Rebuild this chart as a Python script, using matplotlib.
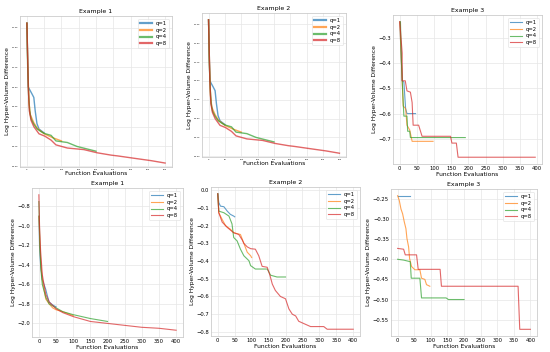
import matplotlib
matplotlib.use("Agg")
import matplotlib.pyplot as plt

labels = ["q=1", "q=2", "q=4", "q=8"]
colors = ["#1f77b4", "#ff7f0e", "#2ca02c", "#d62728"]
xticks = [0, 50, 100, 150, 200, 250, 300, 350, 400]

# top row, example 1 / example 2 (small pictures)
top1_x = [0, 2, 4, 9, 14, 20, 24, 29, 35, 50]
top1_y = [-1.19, -1.6, -2.0, -2.04, -2.08, -2.13, -2.3, -2.46, -2.53, -2.58]
top2_x = [0, 3, 6, 10, 20, 30, 50, 75, 100]
top2_y = [-1.19, -1.8, -2.2, -2.35, -2.45, -2.52, -2.59, -2.64, -2.68]
top4_x = [0, 2, 5, 8, 12, 20, 30, 40, 50, 70, 84, 117, 145, 200]
top4_y = [-1.19, -1.7, -2.1, -2.3, -2.4, -2.47, -2.53, -2.56, -2.585, -2.61, -2.68, -2.70, -2.75, -2.81]
top8_x = [0, 2, 4, 7, 12, 20, 35, 52, 70, 84, 117, 165, 203, 244, 263, 311, 360, 400]
top8_y = [-1.19, -1.6, -2.0, -2.3, -2.42, -2.5, -2.59, -2.62, -2.67, -2.73, -2.77, -2.79, -2.83, -2.86, -2.87, -2.90, -2.93, -2.96]
top_yticks = [-1.25, -1.50, -1.75, -2.00, -2.25, -2.50, -2.75, -3.00]

# top right, example 3
ex3a_1x = [0, 7, 12, 17, 21, 46]
ex3a_1y = [-0.236, -0.47, -0.475, -0.58, -0.60, -0.60]
ex3a_2x = [0, 7, 10, 17, 21, 29, 36, 97]
ex3a_2y = [-0.236, -0.47, -0.57, -0.58, -0.646, -0.665, -0.71, -0.71]
ex3a_4x = [2, 5, 10, 12, 21, 23, 29, 31, 191]
ex3a_4y = [-0.236, -0.40, -0.556, -0.61, -0.61, -0.67, -0.67, -0.695, -0.695]
ex3a_8x = [0, 7, 7, 16, 21, 31, 36, 39, 55, 65, 148, 152, 165, 170, 395]
ex3a_8y = [-0.236, -0.36, -0.47, -0.47, -0.51, -0.515, -0.556, -0.646, -0.646, -0.69, -0.69, -0.717, -0.717, -0.773, -0.773]

# bottom left, example 1
ex1_1x = [0, 2, 5, 10, 15, 20, 25, 30, 40, 50]
ex1_1y = [-0.9, -1.22, -1.4, -1.55, -1.6, -1.65, -1.72, -1.78, -1.81, -1.83]
ex1_2x = [0, 3, 6, 10, 20, 30, 40, 50, 70, 100]
ex1_2y = [-0.9, -1.2, -1.4, -1.55, -1.75, -1.8, -1.84, -1.86, -1.88, -1.92]
ex1_4x = [0, 3, 6, 10, 20, 30, 50, 70, 100, 150, 200]
ex1_4y = [-0.75, -1.2, -1.45, -1.6, -1.73, -1.8, -1.84, -1.88, -1.91, -1.95, -1.98]
ex1_8x = [0, 2, 5, 10, 20, 30, 50, 70, 100, 150, 200, 250, 300, 350, 400]
ex1_8y = [-0.68, -1.0, -1.25, -1.5, -1.7, -1.78, -1.85, -1.89, -1.93, -1.98, -2.0, -2.02, -2.04, -2.05, -2.07]

# bottom middle, example 2
ex2_1x = [0, 3, 8, 18, 28, 37, 47, 50]
ex2_1y = [-0.02, -0.07, -0.09, -0.093, -0.118, -0.136, -0.146, -0.15]
ex2_2x = [0, 3, 13, 23, 37, 47, 67, 77, 87, 97, 100]
ex2_2y = [-0.02, -0.127, -0.165, -0.2, -0.22, -0.24, -0.25, -0.3, -0.35, -0.37, -0.38]
ex2_4x = [0, 3, 18, 33, 42, 47, 57, 67, 77, 92, 97, 111, 146, 156, 175, 200]
ex2_4y = [-0.02, -0.118, -0.127, -0.146, -0.19, -0.267, -0.286, -0.333, -0.37, -0.398, -0.426, -0.445, -0.445, -0.48, -0.49, -0.49]
ex2_8x = [0, 3, 13, 28, 47, 62, 72, 77, 87, 97, 111, 121, 131, 146, 154, 161, 170, 185, 200, 210, 220, 230, 239, 254, 274, 313, 323, 400]
ex2_8y = [-0.02, -0.127, -0.18, -0.21, -0.24, -0.25, -0.28, -0.3, -0.32, -0.33, -0.333, -0.37, -0.43, -0.435, -0.48, -0.53, -0.566, -0.6, -0.613, -0.67, -0.70, -0.71, -0.74, -0.753, -0.77, -0.77, -0.785, -0.785]

# bottom right, example 3
ex3b_1x = [0, 38]
ex3b_1y = [-0.242, -0.242]
ex3b_2x = [0, 5, 10, 15, 20, 25, 28, 33, 36, 42, 52, 67, 72, 82, 87, 97]
ex3b_2y = [-0.242, -0.254, -0.275, -0.287, -0.307, -0.324, -0.348, -0.369, -0.398, -0.418, -0.426, -0.426, -0.447, -0.45, -0.463, -0.467]
ex3b_4x = [0, 18, 38, 41, 67, 72, 146, 153, 200]
ex3b_4y = [-0.40, -0.402, -0.406, -0.447, -0.447, -0.496, -0.496, -0.5, -0.5]
ex3b_8x = [0, 18, 23, 57, 62, 128, 132, 363, 368, 400]
ex3b_8y = [-0.373, -0.375, -0.389, -0.389, -0.425, -0.425, -0.467, -0.467, -0.574, -0.574]

W, H = 550, 352
fig = plt.figure(figsize=(5.5, 3.52), dpi=100)


def make_axes(x0, y0, x1, y1):
    return fig.add_axes([x0 / W, 1 - y1 / H, (x1 - x0) / W, (y1 - y0) / H])


def style(ax, title, tick_fs, lab_fs, leg_fs, leg_lw):
    ax.set_title(title, fontsize=4.5, pad=2)
    ax.set_xlabel("Function Evaluations", fontsize=lab_fs, labelpad=0.5)
    ax.set_ylabel("Log Hyper-Volume Difference", fontsize=lab_fs, labelpad=1)
    ax.set_xticks(xticks)
    ax.tick_params(labelsize=tick_fs, length=0, pad=1.5)
    ax.grid(True, color="#e6e6e6", lw=0.5)
    ax.set_axisbelow(True)
    for s in ax.spines.values():
        s.set_color("#cccccc")
        s.set_linewidth(0.6)
    leg = ax.legend(loc="upper right", fontsize=leg_fs, frameon=True,
                    handlelength=2.2, borderpad=0.4, labelspacing=0.35,
                    fancybox=True)
    leg.get_frame().set_edgecolor("#dddddd")
    leg.get_frame().set_linewidth(0.5)
    for h in leg.get_lines():
        h.set_linewidth(leg_lw)


def draw(ax, xs, ys, lw):
    for x, y, c, lab in zip(xs, ys, colors, labels):
        ax.plot(x, y, color=c, lw=lw, alpha=0.7, label=lab)


top_xs = [top1_x, top2_x, top4_x, top8_x]
top_ys = [top1_y, top2_y, top4_y, top8_y]

ax1 = make_axes(20, 16, 172, 167)
draw(ax1, top_xs, top_ys, 1.0)
ax1.set_ylim(-3.01, -1.10)
ax1.set_yticks(top_yticks)
style(ax1, "Example 1", 1.5, 4.3, 3.8, 1.6)

ax2 = make_axes(202, 13, 346, 157)
draw(ax2, top_xs, top_ys, 1.0)
ax2.set_ylim(-3.01, -1.10)
ax2.set_yticks(top_yticks)
style(ax2, "Example 2", 1.5, 4.3, 3.8, 1.6)

ax3 = make_axes(393, 15, 542, 164)
draw(ax3, [ex3a_1x, ex3a_2x, ex3a_4x, ex3a_8x], [ex3a_1y, ex3a_2y, ex3a_4y, ex3a_8y], 0.8)
style(ax3, "Example 3", 3.8, 4.3, 3.8, 0.8)

ax4 = make_axes(32, 188, 183, 337)
draw(ax4, [ex1_1x, ex1_2x, ex1_4x, ex1_8x], [ex1_1y, ex1_2y, ex1_4y, ex1_8y], 0.8)
ax4.set_yticks([-0.8, -1.0, -1.2, -1.4, -1.6, -1.8, -2.0])
style(ax4, "Example 1", 3.8, 4.3, 3.8, 0.8)

ax5 = make_axes(211, 187, 360, 336)
draw(ax5, [ex2_1x, ex2_2x, ex2_4x, ex2_8x], [ex2_1y, ex2_2y, ex2_4y, ex2_8y], 0.8)
style(ax5, "Example 2", 3.8, 4.3, 3.8, 0.8)

ax6 = make_axes(391, 189, 537, 336)
draw(ax6, [ex3b_1x, ex3b_2x, ex3b_4x, ex3b_8x], [ex3b_1y, ex3b_2y, ex3b_4y, ex3b_8y], 0.8)
style(ax6, "Example 3", 3.8, 4.3, 3.8, 0.8)

fig.savefig("out.png", dpi=100)
